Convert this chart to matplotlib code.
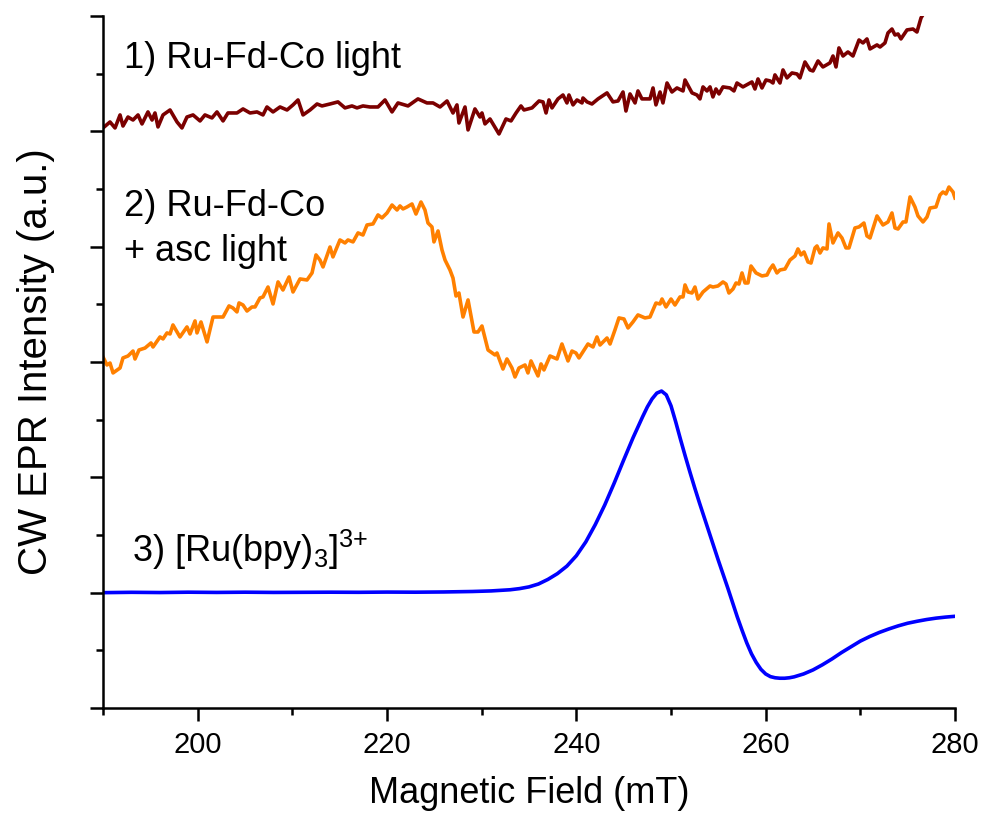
import numpy as np
import matplotlib
matplotlib.use("Agg")
import matplotlib.pyplot as plt
from matplotlib.ticker import MultipleLocator, FixedLocator

plt.rcParams['font.family'] = ['Liberation Sans', 'DejaVu Sans']

# ---- Data ----
# 1) Ru-Fd-Co light
field1 = [190.00, 190.74, 191.27, 191.80, 192.11, 192.64, 193.17, 193.70, 194.12, 194.75,
          195.18, 195.49, 195.81, 196.34, 197.08, 197.82, 198.34, 198.87, 199.51, 200.25,
          200.77, 201.51, 202.04, 202.68, 203.20, 204.15, 204.79, 205.53, 206.27, 206.90,
          207.32, 207.96, 208.70, 209.44, 210.07, 210.60, 211.13, 211.87, 212.61, 213.13,
          213.98, 214.82, 215.56, 216.30, 216.83, 217.46, 218.20, 219.05, 219.79, 220.53,
          221.16, 222.22, 223.27, 224.22, 224.86, 225.60, 226.34, 226.65, 226.97, 227.39,
          227.60, 228.24, 228.56, 229.29, 229.82, 230.03, 230.35, 230.88, 231.83, 232.57,
          233.10, 233.63, 234.15, 234.47, 235.32, 236.06, 236.48, 236.80, 237.11, 237.43,
          238.06, 238.59, 239.01, 239.22, 239.65, 240.07, 240.60, 240.70, 241.13, 241.65,
          242.29, 243.24, 243.87, 244.40, 244.93, 245.24, 245.67, 246.20, 246.51, 246.93,
          247.78, 248.10, 248.41, 248.84, 249.15, 249.58, 250.10, 250.63, 251.27, 251.48,
          252.22, 252.74, 253.06, 253.38, 253.80, 254.12, 254.43, 254.75, 255.07, 255.49,
          256.23, 256.65, 256.97, 257.60, 258.55, 258.87, 259.19, 259.61, 260.03, 260.46,
          260.77, 260.98, 261.51, 261.83, 262.25, 262.78, 263.31, 263.62, 264.15, 264.68,
          265.00, 265.53, 266.05, 266.79, 267.11, 267.43, 267.74, 268.17, 268.69, 269.22,
          269.86, 270.28, 270.70, 271.02, 271.76, 272.08, 272.60, 272.92, 273.34, 273.66,
          273.98, 274.29, 274.93, 275.56, 275.98, 276.41, 277.04, 277.88, 278.94, 280.00]
signal1 = [5.029, 5.081, 5.029, 5.142, 5.046, 5.124, 5.098, 5.142, 5.064, 5.168,
           5.098, 5.159, 5.038, 5.142, 5.185, 5.081, 5.029, 5.124, 5.142, 5.090,
           5.142, 5.116, 5.168, 5.090, 5.159, 5.159, 5.194, 5.159, 5.168, 5.142,
           5.211, 5.168, 5.211, 5.185, 5.229, 5.272, 5.142, 5.185, 5.237, 5.220,
           5.237, 5.255, 5.203, 5.220, 5.203, 5.220, 5.211, 5.211, 5.272, 5.168,
           5.246, 5.220, 5.281, 5.246, 5.246, 5.211, 5.263, 5.211, 5.159, 5.229,
           5.072, 5.211, 5.012, 5.194, 5.124, 5.159, 5.064, 5.107, 4.977, 5.107,
           5.090, 5.159, 5.220, 5.185, 5.203, 5.263, 5.255, 5.159, 5.272, 5.203,
           5.281, 5.315, 5.246, 5.315, 5.229, 5.272, 5.246, 5.289, 5.255, 5.237,
           5.281, 5.333, 5.255, 5.263, 5.341, 5.176, 5.324, 5.246, 5.350, 5.281,
           5.281, 5.376, 5.229, 5.341, 5.246, 5.419, 5.341, 5.376, 5.350, 5.445,
           5.333, 5.315, 5.281, 5.385, 5.350, 5.385, 5.298, 5.367, 5.324, 5.385,
           5.376, 5.350, 5.419, 5.385, 5.428, 5.367, 5.454, 5.376, 5.445, 5.437,
           5.419, 5.489, 5.419, 5.532, 5.463, 5.506, 5.497, 5.463, 5.601, 5.532,
           5.523, 5.610, 5.558, 5.593, 5.653, 5.558, 5.723, 5.653, 5.688, 5.653,
           5.792, 5.766, 5.801, 5.714, 5.749, 5.731, 5.766, 5.853, 5.887, 5.835,
           5.844, 5.801, 5.879, 5.887, 5.861, 5.983, 6.070, 6.100, 6.150, 6.180]

# 2) Ru-Fd-Co + asc light
field2 = [190.00, 190.42, 190.74, 191.06, 191.80, 192.11, 192.64, 193.17, 193.38, 193.80,
          194.44, 195.07, 195.28, 196.02, 196.34, 196.76, 197.08, 197.39, 198.13, 198.87,
          199.19, 199.72, 199.93, 200.35, 200.99, 201.62, 202.68, 203.31, 203.73, 204.15,
          204.37, 204.79, 205.21, 205.74, 206.06, 206.58, 206.90, 207.43, 207.96, 208.49,
          209.01, 209.65, 210.07, 210.81, 211.55, 212.08, 212.50, 212.92, 213.24, 213.98,
          214.29, 215.03, 215.56, 215.88, 216.41, 216.94, 217.46, 217.89, 218.52, 219.05,
          219.47, 220.00, 220.53, 221.06, 221.37, 221.69, 222.11, 222.64, 223.06, 223.59,
          224.01, 224.33, 224.75, 224.96, 225.39, 225.81, 226.13, 226.65, 226.97, 227.29,
          227.60, 228.03, 228.56, 229.19, 229.61, 230.03, 230.67, 231.41, 231.62, 232.25,
          232.67, 233.20, 233.52, 233.94, 234.58, 234.89, 235.21, 235.95, 236.27, 236.58,
          237.22, 237.96, 238.48, 239.12, 239.54, 239.96, 240.28, 241.23, 241.76, 242.18,
          242.50, 243.24, 243.56, 244.08, 244.50, 245.03, 245.46, 245.98, 246.51, 247.25,
          247.78, 248.41, 248.84, 249.05, 249.47, 250.00, 250.42, 250.95, 251.27, 251.48,
          251.80, 252.22, 252.53, 252.85, 253.38, 254.12, 254.43, 254.96, 255.49, 255.81,
          256.12, 256.55, 256.87, 257.18, 257.50, 257.82, 258.13, 258.45, 258.98, 259.61,
          260.14, 260.46, 260.77, 261.19, 261.51, 262.04, 262.57, 263.10, 263.41, 263.73,
          264.05, 264.47, 264.79, 265.21, 265.42, 265.74, 266.05, 266.48, 266.69, 267.11,
          267.64, 268.06, 268.48, 268.80, 269.43, 269.86, 270.38, 270.70, 271.02, 271.76,
          272.39, 272.92, 273.34, 273.66, 273.98, 274.51, 274.82, 275.25, 275.77, 276.09,
          276.62, 277.04, 277.36, 277.99, 278.41, 278.73, 279.05, 279.36, 279.79, 280.00]
signal2 = [3.043, 2.974, 2.991, 2.905, 2.948, 3.035, 3.052, 3.095, 3.026, 3.104,
           3.121, 3.165, 3.130, 3.217, 3.200, 3.252, 3.243, 3.321, 3.217, 3.304,
           3.243, 3.356, 3.252, 3.347, 3.174, 3.390, 3.390, 3.486, 3.468, 3.434,
           3.512, 3.494, 3.442, 3.477, 3.477, 3.555, 3.564, 3.650, 3.503, 3.694,
           3.624, 3.737, 3.607, 3.720, 3.711, 3.772, 3.928, 3.884, 3.824, 3.997,
           3.911, 4.058, 4.032, 4.058, 4.041, 4.119, 4.101, 4.188, 4.197, 4.275,
           4.249, 4.292, 4.361, 4.318, 4.353, 4.327, 4.344, 4.370, 4.283, 4.387,
           4.318, 4.205, 4.171, 4.041, 4.136, 3.971, 3.884, 3.798, 3.728, 3.572,
           3.598, 3.390, 3.538, 3.260, 3.260, 3.312, 3.104, 3.061, 3.078, 2.939,
           3.026, 2.948, 2.870, 2.948, 2.974, 2.905, 3.009, 2.879, 2.983, 2.931,
           3.052, 3.026, 3.156, 3.009, 3.095, 3.078, 3.035, 3.156, 3.130, 3.217,
           3.147, 3.208, 3.156, 3.278, 3.382, 3.373, 3.295, 3.347, 3.408, 3.382,
           3.390, 3.511, 3.503, 3.546, 3.477, 3.546, 3.494, 3.564, 3.564, 3.668,
           3.607, 3.598, 3.650, 3.546, 3.607, 3.659, 3.650, 3.659, 3.694, 3.676,
           3.598, 3.633, 3.685, 3.676, 3.772, 3.685, 3.685, 3.832, 3.772, 3.746,
           3.754, 3.806, 3.841, 3.772, 3.798, 3.806, 3.884, 3.919, 3.980, 3.928,
           3.954, 3.867, 3.858, 3.989, 4.006, 3.945, 3.989, 3.980, 4.197, 4.032,
           4.119, 4.075, 3.989, 3.989, 4.162, 4.171, 4.205, 4.093, 4.075, 4.266,
           4.188, 4.214, 4.292, 4.162, 4.153, 4.214, 4.214, 4.431, 4.344, 4.266,
           4.214, 4.257, 4.335, 4.344, 4.448, 4.474, 4.457, 4.517, 4.474, 4.422]

# 3) [Ru(bpy)3]3+
field3 = [190, 193, 196, 199, 202, 205, 208, 211, 214, 217, 220, 223, 226, 229, 231,
          233, 234, 235, 236, 237, 238, 239, 240, 241, 242, 243, 244, 245, 246, 247,
          247.5, 248, 248.5, 249, 249.5, 250, 250.5, 251, 251.5, 252, 252.5, 253, 253.5,
          254, 254.5, 255, 255.5, 256, 256.5, 257, 257.5, 258, 258.5, 259, 259.5, 260,
          260.5, 261, 261.5, 262, 262.5, 263, 264, 265, 266, 267, 268, 269, 270, 271,
          272, 273, 274, 275, 276, 277, 278, 279, 280]
signal3 = [1.000, 1.003, 1.001, 1.004, 1.002, 1.004, 1.002, 1.003, 1.004, 1.003, 1.005, 1.004, 1.006, 1.010, 1.015,
           1.025, 1.035, 1.050, 1.075, 1.115, 1.165, 1.230, 1.320, 1.440, 1.590, 1.760, 1.950, 2.150, 2.345, 2.525,
           2.610, 2.680, 2.730, 2.748, 2.715, 2.620, 2.480, 2.330, 2.185, 2.045, 1.910, 1.780, 1.655,
           1.530, 1.405, 1.280, 1.160, 1.040, 0.915, 0.790, 0.675, 0.565, 0.470, 0.395, 0.335, 0.295,
           0.272, 0.262, 0.258, 0.258, 0.262, 0.270, 0.295, 0.330, 0.375, 0.425, 0.480, 0.530, 0.580, 0.620,
           0.655, 0.685, 0.712, 0.735, 0.752, 0.767, 0.779, 0.788, 0.795]

labels = ["1) Ru-Fd-Co light", "2) Ru-Fd-Co", "+ asc light",
          r"3) [Ru(bpy)$_\mathregular{3}$]$^\mathregular{3{+}}$"]
xticks = [200, 220, 240, 260, 280]

# ---- Figure ----
fig = plt.figure(figsize=(9.81, 8.15), dpi=100)
ax = fig.add_axes([0.105, 0.1313, 0.8685, 0.8491])

lw = 2.6
ax.plot(field1, signal1, color='#7b0000', lw=lw)
ax.plot(field2, signal2, color='#ff8000', lw=lw)
ax.plot(field3, signal3, color='#0000ff', lw=lw)

ax.set_xlim(190, 280)
ax.set_ylim(0, 6)
ax.xaxis.set_major_locator(FixedLocator(xticks))
ax.xaxis.set_minor_locator(MultipleLocator(10))
ax.yaxis.set_major_locator(MultipleLocator(1))
ax.yaxis.set_minor_locator(MultipleLocator(0.5))
ax.set_yticklabels([])
ax.tick_params(which='major', direction='out', length=9.5, width=1.8, labelsize=21, pad=7)
ax.tick_params(which='minor', direction='out', length=5, width=1.8)
for s in ['top', 'right']:
    ax.spines[s].set_visible(False)
for s in ['left', 'bottom']:
    ax.spines[s].set_linewidth(1.8)

ax.set_xlabel("Magnetic Field (mT)", fontsize=26, labelpad=12)
ax.set_ylabel("CW EPR Intensity (a.u.)", fontsize=29, labelpad=18)

fs = 26
ax.text(192.2, 5.549, labels[0], fontsize=fs, va='baseline', ha='left')
ax.text(192.2, 4.266, labels[1], fontsize=fs, va='baseline', ha='left')
ax.text(192.2, 3.876, labels[2], fontsize=fs, va='baseline', ha='left')
ax.text(193.1, 1.266, labels[3], fontsize=fs, va='baseline', ha='left')

fig.savefig("out.png", dpi=100)
